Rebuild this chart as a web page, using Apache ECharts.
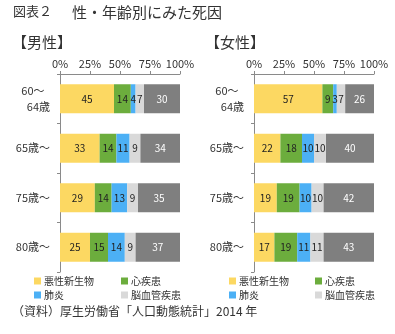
<!DOCTYPE html>
<html><head><meta charset="utf-8">
<script src="https://cdn.jsdelivr.net/npm/echarts@6/dist/echarts.min.js"></script>
<style>html,body{margin:0;padding:0;background:#fff}#c{width:395px;height:334px}</style>
</head><body><div id="c"></div>
<script>
var categories = ['60～\u2002\n64歳', '65歳～', '75歳～', '80歳～'];
var seriesNames = ['悪性新生物', '心疾患', '肺炎', '脳血管疾患', 'その他'];
var xTicks = [0, 25, 50, 75, 100];
// 男性
var maleCancer = [45, 33, 29, 25];
var maleHeart = [14, 14, 14, 15];
var malePneumonia = [4, 11, 13, 14];
var maleCerebro = [7, 9, 9, 9];
var maleOther = [30, 34, 35, 37];
// 女性
var femaleCancer = [57, 22, 19, 17];
var femaleHeart = [9, 18, 19, 19];
var femalePneumonia = [3, 10, 10, 11];
var femaleCerebro = [7, 10, 10, 11];
var femaleOther = [26, 40, 42, 43];

var colors = ['#FCD862', '#6CAD3D', '#4CB0F5', '#D9D9D9', '#7F7F7F'];
var FONT = '"Noto Sans CJK JP", sans-serif';
var chart = echarts.init(document.getElementById('c'), null, {renderer: 'canvas'});

function mkX(gi) {
  return {
    gridIndex: gi, type: 'value', position: 'top', min: xTicks[0], max: xTicks[xTicks.length - 1], interval: 25,
    axisLine: {show: true, lineStyle: {color: '#8a8a8a'}},
    axisTick: {show: true, length: 3, lineStyle: {color: '#8a8a8a'}},
    splitLine: {show: false},
    axisLabel: {formatter: '{value}%', fontSize: 11, color: '#333', margin: 5, fontFamily: FONT}
  };
}
function mkY(gi) {
  return {
    gridIndex: gi, type: 'category', data: categories, inverse: true,
    axisLine: {show: true, lineStyle: {color: '#8a8a8a'}},
    axisTick: {show: true, length: 3, lineStyle: {color: '#8a8a8a'}},
    axisLabel: {fontSize: 11, color: '#333', margin: 10, lineHeight: 16, fontFamily: FONT}
  };
}
var male = [maleCancer, maleHeart, malePneumonia, maleCerebro, maleOther];
var female = [femaleCancer, femaleHeart, femalePneumonia, femaleCerebro, femaleOther];
var series = [];
[male, female].forEach(function (set, gi) {
  set.forEach(function (vals, i) {
    series.push({
      name: seriesNames[i], type: 'bar', stack: 'g' + gi, xAxisIndex: gi, yAxisIndex: gi,
      data: vals, barWidth: 29, itemStyle: {color: colors[i]},
      label: {show: true, position: 'inside', fontSize: 10, fontFamily: FONT,
              color: i === 4 ? '#fff' : '#222'}
    });
  });
});
function lg(name, left, top) {
  return {data: [name], left: left, top: top, padding: 0, itemWidth: 7, itemHeight: 7, icon: 'rect',
          selectedMode: false, itemGap: 0,
          textStyle: {fontSize: 10, color: '#333', fontFamily: FONT, padding: [0, 0, 0, -2]}};
}
var legends = [
  lg('悪性新生物', 34, 276), lg('心疾患', 121, 276), lg('肺炎', 34, 290), lg('脳血管疾患', 121, 290),
  lg('悪性新生物', 229, 276), lg('心疾患', 315, 276), lg('肺炎', 229, 290), lg('脳血管疾患', 315, 290)
];
var ts = function (size) { return {fontSize: size, fontWeight: 'normal', color: '#333', fontFamily: FONT}; };
chart.setOption({
  animation: false,
  color: colors,
  title: [
    {text: '図表２', left: 13, top: 5, padding: 0, textStyle: ts(13)},
    {text: '性・年齢別にみた死因', left: 72, top: 5, padding: 0, textStyle: ts(15)},
    {text: '【男性】', left: 12, top: 35, padding: 0, textStyle: ts(15)},
    {text: '【女性】', left: 205, top: 35, padding: 0, textStyle: ts(15)},
    {text: '（資料）厚生労働省「人口動態統計」2014 年', left: 12, top: 305, padding: 0, textStyle: ts(12)}
  ],
  legend: legends,
  grid: [
    {left: 60, width: 120, top: 74, height: 198},
    {left: 254, width: 120, top: 74, height: 198}
  ],
  xAxis: [mkX(0), mkX(1)],
  yAxis: [mkY(0), mkY(1)],
  series: series
});
</script></body></html>
